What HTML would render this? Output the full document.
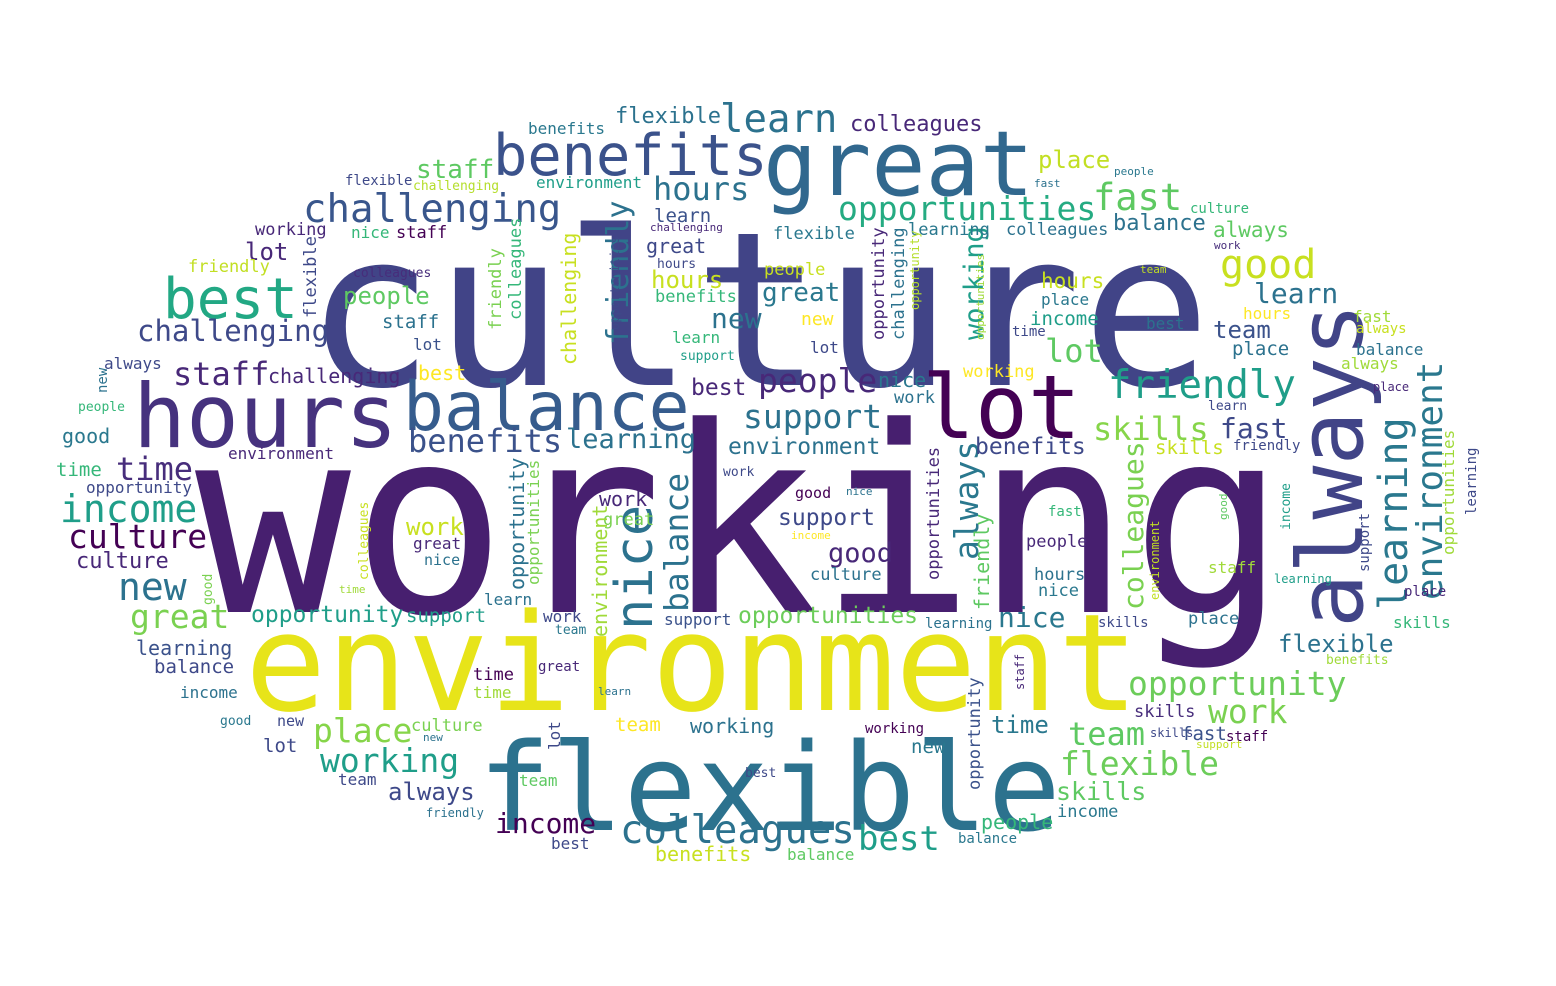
<!DOCTYPE html>
<html><head><meta charset="utf-8"><style>
html,body{margin:0;padding:0;background:#fff;}
svg{display:block;}
text{font-family:"DejaVu Sans Mono","Liberation Mono",monospace;}
</style></head>
<body>
<svg id="cloud" width="1556" height="986" viewBox="0 0 1556 986" xmlns="http://www.w3.org/2000/svg">
<rect width="1556" height="986" fill="#ffffff"/>
</svg>
<script>
// word, font size (frequency weight), colour
const words = [
"working","culture","environment","flexible","great","benefits","hours","balance","lot","always",
"environment","learning","best","challenging","staff","learn","hours","opportunities","fast","good",
"friendly","skills","fast","place","lot","support","people","benefits","learning","income",
"culture","culture","time","new","great","nice","balance","always","working","colleagues",
"opportunity","work","flexible","team","flexible","skills","colleagues","best","income","working",
"place","always","opportunity","opportunities","good","support","environment","benefits","nice","work",
"people","new","great","staff","flexible","colleagues","friendly",
"benefits","flexible","challenging","environment","working","nice","staff","lot","friendly","colleagues",
"learn","great","hours","hours","benefits","learn","support","flexible","challenging","people",
"new","lot","nice","work","learning","colleagues","balance","always","culture","hours",
"place","income","learn","team","place","best","time","hours","fast","always",
"balance","always","working","people","fast","work","team","place","learn","friendly",
"skills","work","work","great","good","nice","income","culture","people","hours",
"nice","fast","staff","learning","place","skills","skills","place","learning","support",
"support","work","team","learn","great","nice","learning","balance","income","good",
"new","lot","team","time","time","great","learn","culture","new","team",
"working","team","best","working","new","time","fast","staff","skills","skills",
"support","income","people","balance","balance","benefits","best","friendly","benefits","opportunity",
"staff","lot","environment","opportunities","opportunity","colleagues","good","time","best","lot",
"staff","challenging","challenging","always","new","people","good","time","opportunity","environment",
"opportunities","learning","income","support","good","environment","best","friendly","opportunities","challenging",
"friendly","colleagues","flexible","opportunities","opportunity","challenging","opportunities","opportunity"
];
const sizes = [
259,215,135,121,90,57,88,68,88,90,
36,40,56,39,32,39,32,33,37,40,
39,32,28,24,32,33,33,32,27,38,
33,22,32,38,33,52,33,33,27,28,
33,33,24,32,33,25,39,34,28,33,
33,24,23,23,27,23,23,23,28,24,
24,28,26,26,22,22,30,
16,14,13,16,17,16,17,24,17,13,
19,20,13,24,17,16,13,17,11,17,
18,16,20,17,17,17,22,21,14,21,
16,19,28,24,19,16,14,16,16,14,
16,16,17,11,11,11,11,12,13,14,
19,13,20,17,15,11,11,17,17,17,
17,14,16,12,14,16,14,17,14,16,
19,16,13,16,16,15,20,19,16,13,
15,19,16,17,16,14,11,17,11,19,
20,16,13,14,19,24,19,14,17,12,
11,17,20,14,16,20,16,12,13,17,
12,16,20,16,20,13,13,11,20,16,
19,29,20,16,14,13,20,19,16,16,
16,14,13,14,11,12,23,20,17,20,
17,17,17,12,17,17,11,12
];
const colors = [
"#471f6f","#414487","#e7e419","#2c728e","#31688e","#3b528b","#46327e","#365c8d","#440154","#414487",
"#2a788e","#2a788e","#22a884","#39568c","#482878","#2c728e","#2c728e","#25ab82","#5ec962","#c8e020",
"#1f9e89","#86d549","#3e4989","#c2df23","#5ec962","#2c728e","#482878","#3b528b","#2c728e","#1f9e89",
"#440154","#482878","#472d7b","#2c728e","#7ad151","#2c728e","#2c728e","#2a788e","#1f9e89","#7ad151",
"#6ccd5a","#7ad151","#2c728e","#5ec962","#6ccd5a","#5ec962","#2c728e","#1f9e89","#440154","#1f9e89",
"#86d549","#3e4989","#1f9e89","#6ccd5a","#482878","#3e4989","#2c728e","#3e4989","#2a788e","#c8e020",
"#5ec962","#2c728e","#2a788e","#5ec962","#2c728e","#482878","#2c728e",
"#2a788e","#3e4989","#b5de2b","#1f9e89","#482878","#35b779","#440154","#482878","#c2df23","#472d7b",
"#3b528b","#3e4989","#3e4989","#c8e020","#35b779","#35b779","#1f9e89","#2a788e","#482878","#c8e020",
"#fde725","#3e4989","#2a788e","#2c728e","#2a788e","#2c728e","#2c728e","#5ec962","#35b779","#c8e020",
"#2a788e","#1f9e89","#2c728e","#3b528b","#2c728e","#2c728e","#3e4989","#fde725","#a0da39","#c8e020",
"#2c728e","#a0da39","#fde725","#2a788e","#2c728e","#472d7b","#c2df23","#482878","#3e4989","#3e4989",
"#c8e020","#3e4989","#482878","#7ad151","#440154","#2c728e","#fde725","#2c728e","#482878","#2c728e",
"#2a788e","#35b779","#a0da39","#1f9e89","#482878","#35b779","#3e4989","#2c728e","#2c728e","#3b528b",
"#1f9e89","#3e4989","#2a788e","#2c728e","#482878","#2c728e","#3b528b","#3e4989","#2c728e","#2a788e",
"#3e4989","#3e4989","#3e4989","#440154","#a0da39","#482878","#2c728e","#7ad151","#2c728e","#fde725",
"#2c728e","#5ec962","#3e4989","#440154","#2a788e","#2a788e","#3b528b","#440154","#472d7b","#3e4989",
"#c2df23","#2a788e","#35b779","#2a788e","#5ec962","#c8e020","#3e4989","#2c728e","#a0da39","#3b528b",
"#482878","#3e4989","#a0da39","#7ad151","#2c728e","#c8e020","#7ad151","#a0da39","#fde725","#3b528b",
"#2c728e","#3e4989","#482878","#3e4989","#2c728e","#35b779","#2a788e","#35b779","#3e4989","#482878",
"#a0da39","#3e4989","#1f9e89","#3e4989","#5ec962","#c2df23","#482878","#5ec962","#482878","#c8e020",
"#7ad151","#35b779","#3e4989","#3e4989","#482878","#2c728e","#a0da39","#b5de2b"
];
// layout (placement of each word in the cloud)
const posX = [
195,305,245,478,763,493,133,403,922,1362,
1442,1407,163,303,173,720,653,838,1093,1220,
1108,1093,1220,1038,1045,743,758,408,566,60,
68,76,116,118,130,652,688,978,983,1143,
1128,1208,1278,1068,1060,1056,620,858,495,320,
313,388,251,738,828,778,728,975,998,406,
343,711,762,416,615,850,628,
528,345,413,536,255,351,396,245,188,353,
654,646,657,651,655,672,680,773,650,764,
801,810,878,894,908,1006,1113,1213,1190,1041,
1041,1030,1254,1213,1232,1146,1012,1243,1353,1356,
1356,1341,963,1114,1034,1214,1140,1373,1208,1233,
1155,723,599,603,795,846,791,810,1026,1034,
1038,1048,1208,1274,1404,1393,1098,1188,925,664,
406,543,555,484,413,424,136,154,180,220,
277,263,338,473,473,538,598,411,423,615,
690,519,745,865,911,991,1181,1226,1134,1150,
1196,1057,981,958,787,655,551,426,1326,980,
1024,560,607,539,524,368,212,339,418,413,
382,137,268,104,107,78,62,56,86,228,
1454,1476,1290,1369,1227,1159,691,989,939,576,
501,521,316,619,884,904,984,919
];
const posY = [
612,385,710,830,195,175,447,430,438,628,
600,610,318,222,385,132,200,220,210,278,
398,440,438,168,362,428,392,452,448,522,
548,568,480,600,628,630,612,560,340,610,
695,723,652,745,775,800,843,850,833,772,
742,800,622,623,562,525,454,454,627,535,
304,328,301,178,123,131,345,
134,185,190,188,235,238,238,260,272,277,
222,253,268,288,302,343,360,239,231,275,
325,353,387,403,235,235,230,237,213,288,
305,325,303,338,355,329,336,319,322,333,
355,369,377,175,187,249,273,391,410,450,
454,476,506,525,498,495,539,580,547,580,
596,516,573,583,596,628,627,624,628,625,
622,622,634,605,549,565,655,673,698,725,
726,752,785,680,698,671,695,731,741,731,
733,786,777,733,753,733,740,741,717,737,
748,817,829,843,860,861,849,817,664,790,
690,750,637,585,590,580,605,593,380,350,
328,341,383,369,393,411,443,476,493,459,
555,515,530,572,520,600,395,610,580,365,
330,320,318,330,340,340,340,310
];
const rot = [
0,0,0,0,0,0,0,0,0,1,
1,1,0,0,0,0,0,0,0,0,
0,0,0,0,0,0,0,0,0,0,
0,0,0,0,0,1,1,1,1,1,
0,0,0,0,0,0,0,0,0,0,
0,0,0,0,0,0,0,0,0,0,
0,0,0,0,0,0,1,
0,0,0,0,0,0,0,0,0,0,
0,0,0,0,0,0,0,0,0,0,
0,0,0,0,0,0,0,0,0,0,
0,0,0,0,0,0,0,0,0,0,
0,0,0,0,0,0,0,0,0,0,
0,0,0,0,0,0,0,0,0,0,
0,0,0,0,0,0,0,0,0,0,
0,0,0,0,0,0,0,0,0,0,
0,0,0,0,0,0,0,0,0,0,
0,0,0,0,0,0,0,0,0,0,
0,0,0,0,0,0,0,0,0,1,
1,1,1,1,1,1,1,0,0,0,
0,0,0,0,1,0,0,0,0,0,
1,1,1,1,1,1,0,1,1,1,
1,1,1,1,1,1,1,1
];
const NS = "http://www.w3.org/2000/svg";
const svg = document.getElementById("cloud");
for (let i = 0; i < words.length; i++) {
  const t = document.createElementNS(NS, "text");
  t.setAttribute("x", posX[i]);
  t.setAttribute("y", posY[i]);
  t.setAttribute("font-size", sizes[i]);
  t.setAttribute("fill", colors[i]);
  if (rot[i]) t.setAttribute("transform", "rotate(-90 " + posX[i] + " " + posY[i] + ")");
  t.textContent = words[i];
  
  
  svg.appendChild(t);
}
</script>
</body></html>
